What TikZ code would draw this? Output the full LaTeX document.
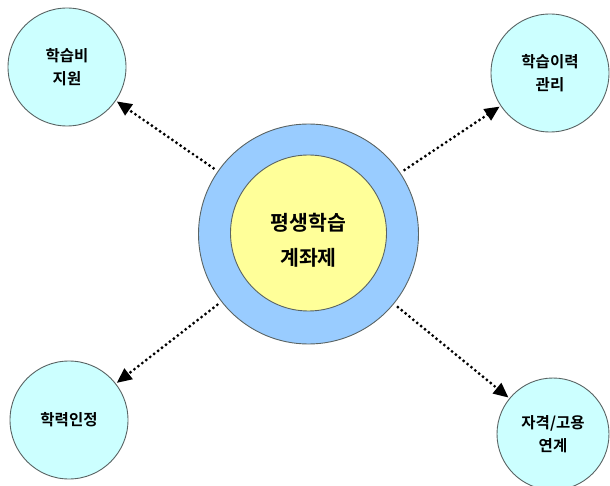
\documentclass[tikz,border=0pt]{standalone}
\usepackage{fontspec}
\setmainfont{Noto Sans CJK KR}[BoldFont={* Bold}]
\newfontfamily\krbold{Noto Sans CJK KR Bold}
\usetikzlibrary{arrows.meta}
\definecolor{ringblue}{RGB}{153,204,255}
\definecolor{coreyellow}{RGB}{255,255,153}
\definecolor{leafcyan}{RGB}{204,255,255}
\definecolor{rimgray}{RGB}{90,100,100}
\tikzset{
  leaf/.style={circle, draw=rimgray, line width=0.9pt, fill=leafcyan,
    minimum size=118pt, inner sep=0pt, align=center,
    font=\krbold\fontsize{15.5}{23}\selectfont},
  ring/.style={circle, draw=rimgray, line width=0.9pt, fill=ringblue,
    minimum size=220pt, inner sep=0pt},
  core/.style={circle, draw=rimgray, line width=0.9pt, fill=coreyellow,
    minimum size=156pt, inner sep=0pt},
  title/.style={align=center, inner sep=0pt,
    font=\krbold\fontsize{20.5}{35}\selectfont},
  link/.style={line width=3.2pt, line cap=round, dash pattern=on 0pt off 5pt,
    -{Triangle[length=15pt,width=13pt]},
    shorten <=5pt, shorten >=1pt}
}
\begin{document}
\begin{tikzpicture}[x=1pt,y=-1pt]
  \useasboundingbox (0,0) rectangle (610,486);
  % central ring and core
  \node[ring] (ring) at (308.5,234) {};
  \node[core] (core) at (308.5,233) {};
  \node[title] (title) at (308.5,240) {평생학습\\계좌제};
  % surrounding topics
  \node[leaf] (support) at (67,67) {학습비\\지원};
  \node[leaf] (record) at (550,73) {학습이력\\관리};
  \node[leaf] (credit) at (69,420) {학력인정};
  \node[leaf, minimum size=112pt] (job) at (553,434) {자격/고용\\연계};
  % dotted arrows from the centre outwards
  \draw[link] (ring) -- (support);
  \draw[link] (ring) -- (record);
  \draw[link] (ring) -- (credit);
  \draw[link] (ring) -- (job);
\end{tikzpicture}
\end{document}
